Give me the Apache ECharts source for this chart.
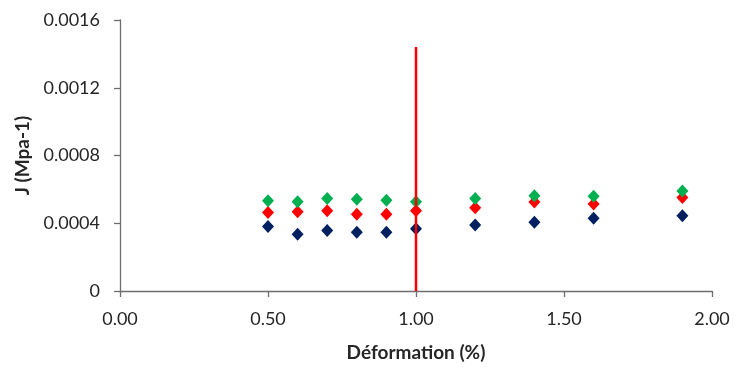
<!DOCTYPE html>
<html><head><meta charset="utf-8">
<script src="https://cdn.jsdelivr.net/npm/echarts@6/dist/echarts.min.js"></script>
<style>html,body{margin:0;padding:0;background:#fff}#c{width:734px;height:367px}</style>
</head><body><div id="c"></div>
<script>
const strain = [0.5, 0.6, 0.7, 0.8, 0.9, 1.0, 1.2, 1.4, 1.6, 1.9];
const seriesNavy = [0.000381, 0.000335, 0.000357, 0.000347, 0.000347, 0.000367, 0.000390, 0.000406, 0.000429, 0.000445];
const seriesRed = [0.000463, 0.000468, 0.000474, 0.000453, 0.000453, 0.000474, 0.000492, 0.000525, 0.000513, 0.000552];
const seriesGreen = [0.000533, 0.000527, 0.000546, 0.000542, 0.000536, 0.000527, 0.000546, 0.000562, 0.000560, 0.000591];
const refLineX = [1.0, 1.0];
const refLineY = [0, 0.00144];
const xTicks = [0, 0.5, 1.0, 1.5, 2.0];
const yTicks = [0, 0.0004, 0.0008, 0.0012, 0.0016];

const pair = (xs, ys) => xs.map((x, i) => [x, ys[i]]);
const font = 'Lato, "Open Sans", sans-serif';
const axisCol = '#6e6e6e';
const txtCol = '#262626';

const chart = echarts.init(document.getElementById('c'));
chart.setOption({
  animation: false,
  grid: {left: 120, right: 22, top: 20, bottom: 74},
  xAxis: {
    type: 'value', min: 0, max: 2, interval: 0.5,
    name: 'Déformation (%)', nameLocation: 'middle', nameGap: 52,
    nameTextStyle: {fontFamily: font, fontWeight: 'bold', fontSize: 19, color: txtCol},
    axisLine: {lineStyle: {color: axisCol, width: 1.3}},
    axisTick: {show: true, length: 6, inside: false, lineStyle: {color: axisCol, width: 1.3}},
    splitLine: {show: false},
    axisLabel: {fontFamily: font, fontSize: 18, color: txtCol, margin: 19,
      formatter: v => v.toFixed(2)}
  },
  yAxis: {
    type: 'value', min: 0, max: 0.0016, interval: 0.0004,
    name: 'J (Mpa-1)', nameLocation: 'middle', nameGap: 88, nameRotate: 90,
    nameTextStyle: {fontFamily: font, fontWeight: 'bold', fontSize: 19, color: txtCol},
    axisLine: {show: true, lineStyle: {color: axisCol, width: 1.3}},
    axisTick: {show: true, length: 6, lineStyle: {color: axisCol, width: 1.3}},
    splitLine: {show: false},
    axisLabel: {fontFamily: font, fontSize: 18, color: txtCol, margin: 20,
      formatter: v => v === 0 ? '0' : v.toFixed(4)}
  },
  series: [
    {type: 'line', data: pair(refLineX, refLineY), showSymbol: false, symbol: 'none',
      lineStyle: {color: '#ff0000', width: 2.5}, z: 5},
    {type: 'scatter', data: pair(strain, seriesNavy), symbol: 'diamond', symbolSize: [12, 13],
      itemStyle: {color: '#002060', opacity: 1}, z: 3},
    {type: 'scatter', data: pair(strain, seriesRed), symbol: 'diamond', symbolSize: [12, 13],
      itemStyle: {color: '#ff0000', opacity: 1}, z: 3},
    {type: 'scatter', data: pair(strain, seriesGreen), symbol: 'diamond', symbolSize: [12, 13],
      itemStyle: {color: '#00b050', opacity: 1}, z: 4}
  ]
});
</script></body></html>
